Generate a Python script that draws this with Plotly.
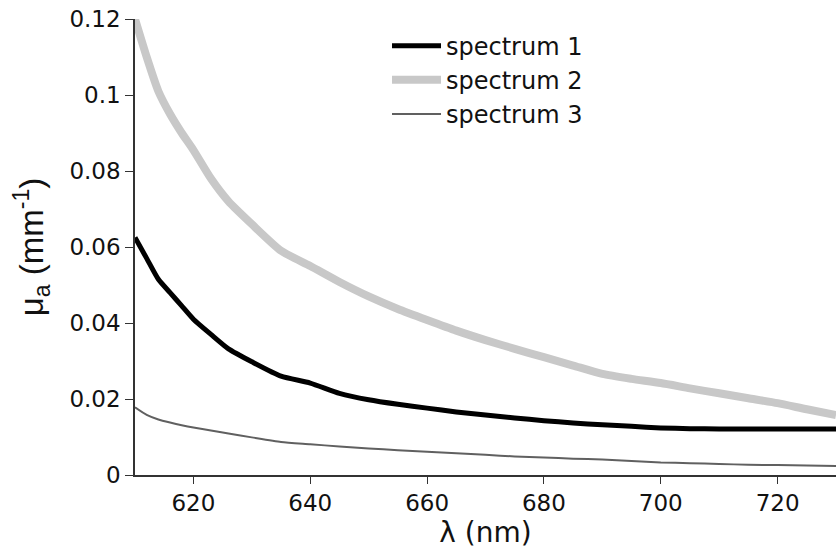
import plotly.graph_objects as go

wavelength = [610, 612, 614, 616, 618, 620, 623, 626, 630, 635, 640, 645, 650, 655, 660,
              665, 670, 675, 680, 685, 690, 695, 700, 705, 710, 715, 720, 725, 730]

spectrum1 = [0.0625, 0.057, 0.0515, 0.048, 0.0445, 0.041, 0.037, 0.0332, 0.0298, 0.026,
             0.0242, 0.0215, 0.0198, 0.0186, 0.0176, 0.0166, 0.0158, 0.015, 0.0143, 0.0137,
             0.0132, 0.0128, 0.0124, 0.0122, 0.0121, 0.0121, 0.0121, 0.0121, 0.0121]

spectrum2 = [0.120, 0.110, 0.101, 0.095, 0.090, 0.0855, 0.078, 0.072, 0.066, 0.059,
             0.055, 0.0508, 0.047, 0.0437, 0.0408, 0.038, 0.0355, 0.0332, 0.031, 0.0288,
             0.0266, 0.0253, 0.0242, 0.0228, 0.0215, 0.0202, 0.0189, 0.0173, 0.0158]

spectrum3 = [0.0178, 0.0158, 0.0146, 0.0138, 0.0131, 0.0125, 0.0117, 0.0109, 0.0099, 0.0087,
             0.0081, 0.0075, 0.0070, 0.0065, 0.0061, 0.0057, 0.0053, 0.0049, 0.0046, 0.0043,
             0.0041, 0.0037, 0.0033, 0.0031, 0.0029, 0.0027, 0.0026, 0.0025, 0.0024]

x_ticks = [620, 640, 660, 680, 700, 720]
y_ticks = [0, 0.02, 0.04, 0.06, 0.08, 0.1, 0.12]
y_ticktext = ["0", "0.02", "0.04", "0.06", "0.08", "0.1", "0.12"]

font_family = "DejaVu Sans, Liberation Sans, Arial, sans-serif"

fig = go.Figure()
fig.add_trace(go.Scatter(x=wavelength, y=spectrum1, mode="lines", name="spectrum 1",
                         line=dict(color="#000000", width=5, shape="spline", smoothing=0.6)))
fig.add_trace(go.Scatter(x=wavelength, y=spectrum2, mode="lines", name="spectrum 2",
                         line=dict(color="#c8c8c8", width=8, shape="spline", smoothing=0.6)))
fig.add_trace(go.Scatter(x=wavelength, y=spectrum3, mode="lines", name="spectrum 3",
                         line=dict(color="#606060", width=2, shape="spline", smoothing=0.6)))

fig.update_layout(
    width=836, height=552,
    margin=dict(l=135, r=0, t=19, b=77),
    paper_bgcolor="white", plot_bgcolor="white",
    font=dict(family=font_family, size=23, color="#111111"),
    showlegend=True,
    legend=dict(x=0.3595, y=0.99, xanchor="left", yanchor="top",
                bgcolor="rgba(0,0,0,0)", font=dict(size=24),
                itemwidth=49, tracegroupgap=0),
    xaxis=dict(range=[610, 730], tickvals=x_ticks, ticks="outside", ticklen=7,
               showline=True, linecolor="#333333", linewidth=1.5, tickcolor="#333333",
               showgrid=False, zeroline=False, mirror=False, automargin=False,
               tickfont=dict(size=23),
               title=dict(text="λ (nm)", font=dict(size=28), standoff=3)),
    yaxis=dict(range=[0, 0.12], tickvals=y_ticks, ticktext=y_ticktext, ticks="outside",
               ticklen=8, showline=True, linecolor="#333333", linewidth=1.5,
               tickcolor="#333333", showgrid=False, zeroline=False, mirror=False,
               automargin=False, tickfont=dict(size=23),
               title=dict(text="μ<sub>a</sub> (mm<sup>-1</sup>)",
                          font=dict(family="Liberation Sans, Arial, sans-serif", size=33),
                          standoff=16)),
)

fig.write_html("out.html", config={"displayModeBar": False},
               post_script="document.body.style.margin='0px';document.body.style.overflow='hidden';")
